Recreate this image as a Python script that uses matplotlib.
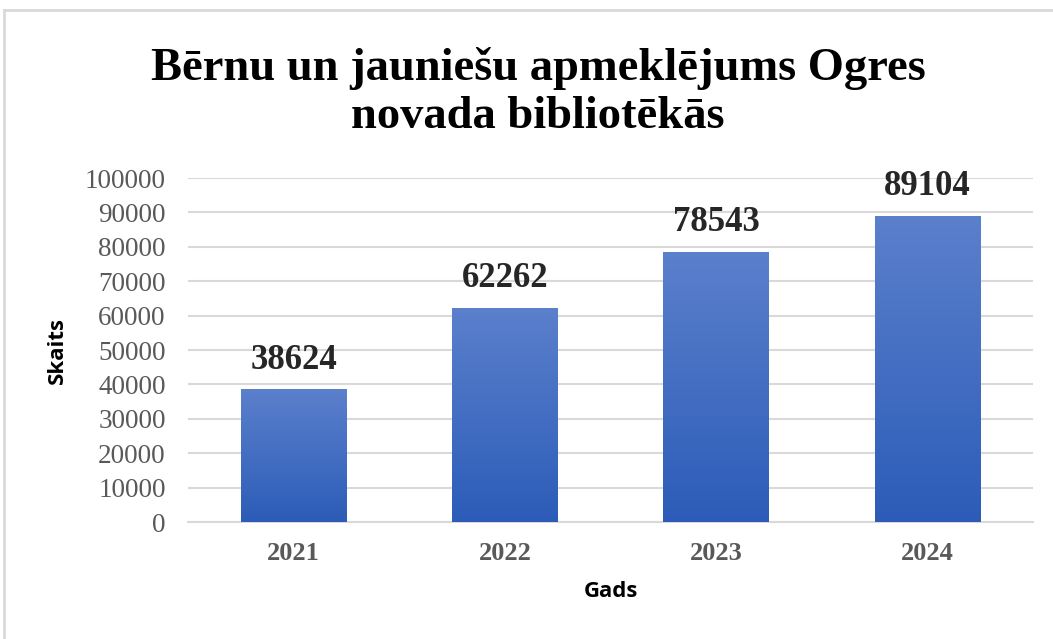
import matplotlib.pyplot as plt
import numpy as np
from matplotlib.lines import Line2D
from matplotlib.colors import LinearSegmentedColormap

years = ["2021", "2022", "2023", "2024"]
visits = [38624, 62262, 78543, 89104]

fig = plt.figure(figsize=(10.53, 6.39), dpi=100)
ax = fig.add_axes([0.1785, 0.183, 0.8025, 0.5384])

x = np.arange(len(years))
bars = ax.bar(x, visits, width=0.5, color="#3f6cc6", zorder=3)

# vertical gradient inside each bar
grad = LinearSegmentedColormap.from_list("g", ["#2c5cb8", "#5b80cc"])
for b in bars:
    x0, w, h = b.get_x(), b.get_width(), b.get_height()
    im = ax.imshow(np.linspace(0, 1, 256).reshape(-1, 1), cmap=grad, origin="lower",
                   extent=[x0, x0 + w, 0, h], aspect="auto", zorder=4)
    im.set_clip_path(b)
    ax.annotate(f"{int(h)}", (x0 + w / 2, h), xytext=(0, 9), textcoords="offset points",
                ha="center", va="bottom", fontsize=25, fontweight="bold",
                family="Liberation Serif", color="#262626", zorder=5)

ax.set_xlim(-0.5, len(years) - 0.5)
ax.set_ylim(0, 100000)
ax.set_yticks(range(0, 100001, 10000))
ax.set_xticks(x)
ax.set_xticklabels(years, family="Liberation Serif", fontsize=19, fontweight="bold", color="#595959")
for t in ax.get_yticklabels():
    t.set_family("Liberation Serif")
    t.set_fontsize(19.5)
    t.set_color("#595959")
ax.tick_params(axis="y", length=0, pad=16)
ax.tick_params(axis="x", length=0, pad=14)
ax.grid(axis="y", color="#d9d9d9", lw=1.5, zorder=0)
for s in ["top", "right", "left"]:
    ax.spines[s].set_visible(False)
ax.spines["bottom"].set_color("#d9d9d9")
ax.spines["bottom"].set_linewidth(1.5)

ax.set_ylabel("Skaits", family="Open Sans", fontweight="bold", fontsize=16, color="#000000", labelpad=12)
ax.set_xlabel("Gads", family="Open Sans", fontweight="bold", fontsize=16, color="#000000", labelpad=12)

fig.text(0.511, 1 - 47 / 639, "Bērnu un jauniešu apmeklējums Ogres\nnovada bibliotēkās",
         ha="center", va="top", family="Liberation Serif", fontweight="bold", fontsize=33.5,
         linespacing=1.2)

# chart frame (top and left edges visible)
fig.add_artist(Line2D([4 / 1053, 1], [1 - 10 / 639, 1 - 10 / 639], color="#d9d9d9", lw=2))
fig.add_artist(Line2D([4 / 1053, 4 / 1053], [0, 1 - 10 / 639], color="#d9d9d9", lw=2))

fig.savefig("out.png", dpi=100)
